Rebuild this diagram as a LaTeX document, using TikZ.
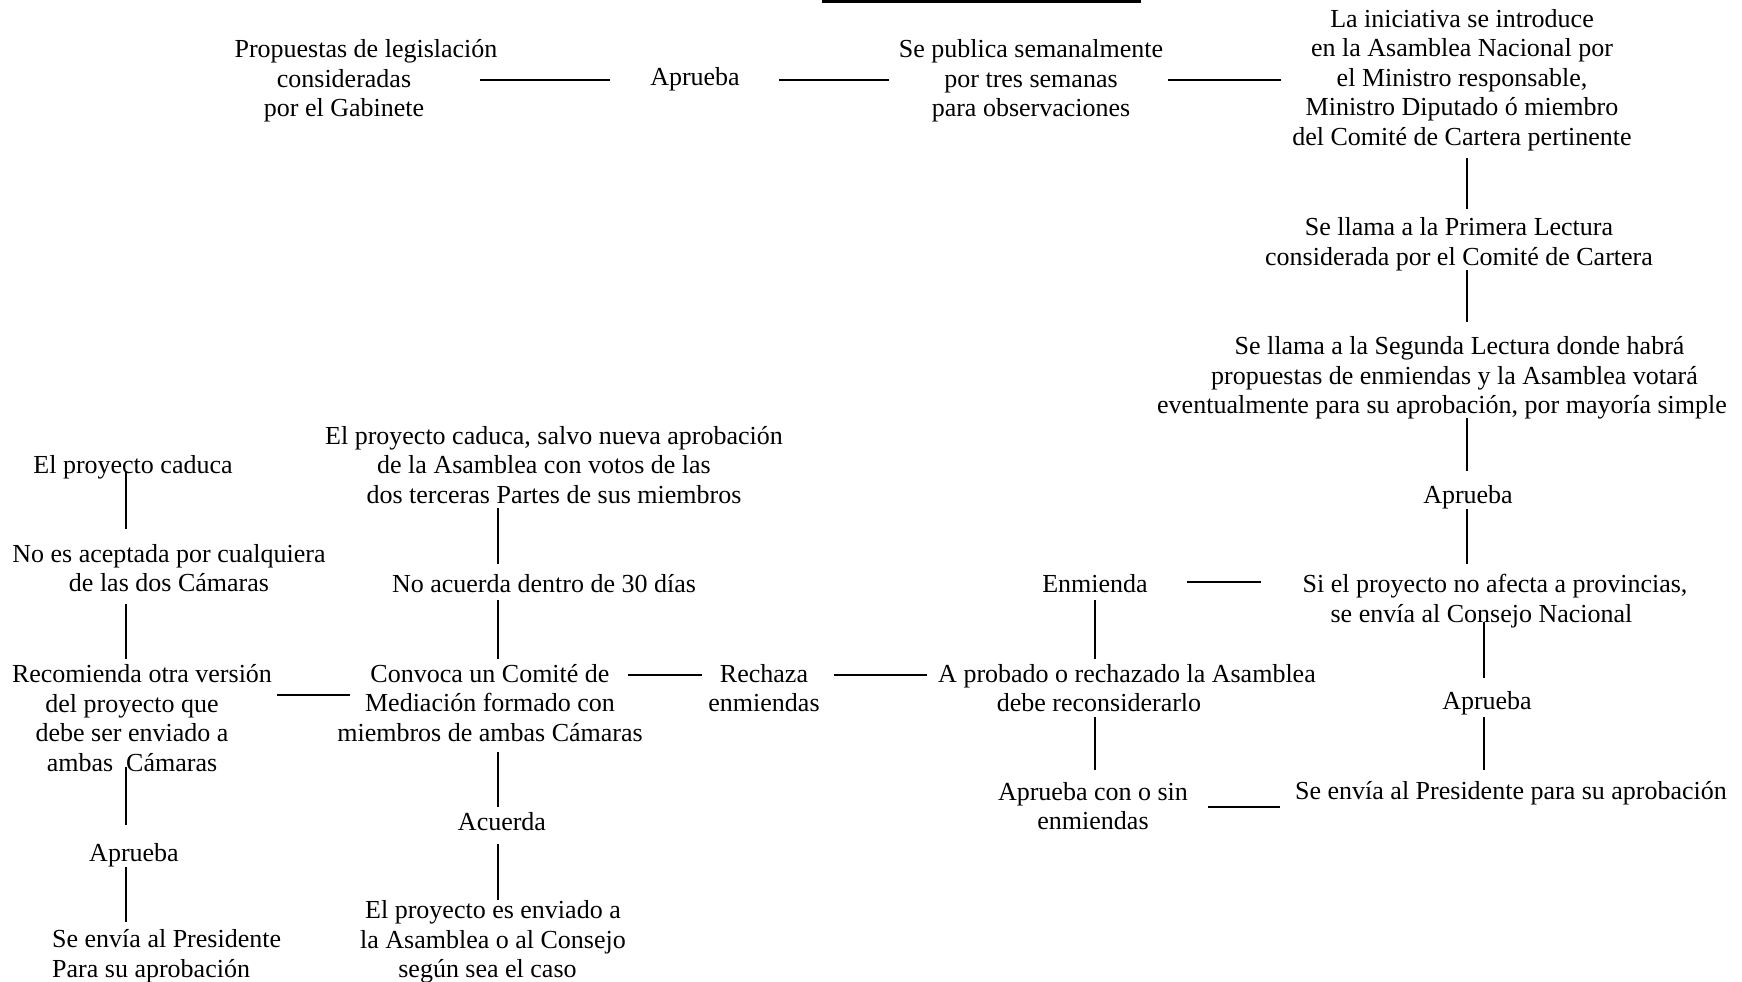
\documentclass[tikz,border=0pt]{standalone}
\usepackage{fontspec}
\setmainfont{Liberation Serif}
\usetikzlibrary{calc}
\newcommand{\padr}[1]{\rule{#1}{0pt}}
\begin{document}
\begin{tikzpicture}[x=1pt,y=-1pt,
  txt/.style={inner sep=0pt,align=center,font=\fontsize{26}{29.5}\selectfont},
  hconn/.style={line width=2pt},
  vconn/.style={line width=1.5pt}]
\useasboundingbox (0,0) rectangle (1742,982);
\draw[line width=3pt] (822,2) -- (1141,2);
% nodes
\node[txt] (n1) at (366,81) {Propuestas de legislación\\consideradas\padr{44pt}\\por el Gabinete\padr{44pt}};
\node[txt] (a1) at (695,79) {Aprueba};
\node[txt] (n2) at (1031,81) {Se publica semanalmente\\por tres semanas\\para observaciones};
\node[txt] (n3) at (1462,80) {La iniciativa se introduce\\en la Asamblea Nacional por\\el Ministro responsable,\\Ministro Diputado ó miembro\\del Comité de Cartera pertinente};
\node[txt] (n4) at (1459,244) {Se llama a la Primera Lectura\\considerada por el Comité de Cartera};
\node[txt] (n5) at (1442,378) {\padr{35pt}Se llama a la Segunda Lectura donde habrá\\\padr{25pt}propuestas de enmiendas y la Asamblea votará\\eventualmente para su aprobación, por mayoría simple};
\node[txt] (a2) at (1468,497) {Aprueba};
\node[txt] (n6) at (1495,601) {Si el proyecto no afecta a provincias,\\se envía al Consejo Nacional\padr{27pt}};
\node[txt] (enm) at (1095,584) {Enmienda};
\node[txt] (n7) at (1127,688) {A probado o rechazado la Asamblea\\debe reconsiderarlo\padr{56pt}};
\node[txt] (rech) at (764,688) {Rechaza\\enmiendas};
\node[txt] (conv) at (490,703) {Convoca un Comité de\\Mediación formado con\\miembros de ambas Cámaras};
\node[txt] (recom) at (142,718) {Recomienda otra versión\\del proyecto que\padr{20pt}\\debe ser enviado a\padr{20pt}\\ambas\ \ Cámaras\padr{20pt}};
\node[txt] (a3) at (134,855) {Aprueba};
\node[txt,align=left,anchor=west] (pres1) at (52,956) {Se envía al Presidente\\Para su aprobación};
\node[txt] (cad1) at (133,467) {El proyecto caduca};
\node[txt] (noac) at (169,568) {No es aceptada por cualquiera\\de las dos Cámaras};
\node[txt] (cad2) at (554,465) {El proyecto caduca, salvo nueva aprobación\\de la Asamblea con votos de las\padr{20pt}\\dos terceras Partes de sus miembros};
\node[txt] (no30) at (544,584) {No acuerda dentro de 30 días};
\node[txt] (acu) at (502,822) {Acuerda};
\node[txt] (env) at (493,942) {El proyecto es enviado a\\la Asamblea o al Consejo\\según sea el caso\padr{11pt}};
\node[txt] (apr4) at (1093,806) {Aprueba con o sin\\enmiendas};
\node[txt] (pres2) at (1511,793) {Se envía al Presidente para su aprobación};
\node[txt] (a5) at (1487,703) {Aprueba};
% horizontal connectors
\draw[hconn] ($(n1)+(114,-1)$) -- ($(a1)+(-85,1)$);
\draw[hconn] ($(a1)+(84,1)$) -- ($(n2)+(-142,-1)$);
\draw[hconn] ($(n2)+(137,-1)$) -- ($(n3)+(-181,0)$);
\draw[hconn] ($(enm)+(92,-2)$) -- ($(n6)+(-234,-19)$);
\draw[hconn] ($(rech)+(70,-13)$) -- ($(n7)+(-200,-13)$);
\draw[hconn] ($(conv)+(138,-28)$) -- ($(rech)+(-62,-13)$);
\draw[hconn] ($(recom)+(135,-23)$) -- ($(conv)+(-140,-8)$);
\draw[hconn] ($(apr4)+(115,1)$) -- ($(pres2)+(-231,14)$);
% vertical connectors
\draw[vconn] ($(n3)+(5,78)$) -- ($(n4)+(8,-35)$);
\draw[vconn] ($(n4)+(8,26)$) -- ($(n5)+(25,-56)$);
\draw[vconn] ($(n5)+(25,40)$) -- ($(a2)+(-1,-26)$);
\draw[vconn] ($(a2)+(-1,12)$) -- ($(n6)+(-28,-37)$);
\draw[vconn] ($(enm)+(0,16)$) -- ($(n7)+(-32,-29)$);
\draw[vconn] ($(recom)+(-16,49)$) -- ($(a3)+(-8,-30)$);
\draw[vconn] ($(a3)+(-8,12)$) -- ($(pres1.west)+(74,-34)$);
\draw[vconn] ($(cad1)+(-7,4)$) -- ($(noac)+(-43,-39)$);
\draw[vconn] ($(noac)+(-43,36)$) -- ($(recom)+(-16,-59)$);
\draw[vconn] ($(cad2)+(-56,43)$) -- ($(no30)+(-46,-20)$);
\draw[vconn] ($(no30)+(-46,16)$) -- ($(conv)+(8,-44)$);
\draw[vconn] ($(conv)+(8,49)$) -- ($(acu)+(-4,-15)$);
\draw[vconn] ($(acu)+(-4,22)$) -- ($(env)+(5,-42)$);
\draw[vconn] ($(n7)+(-32,29)$) -- ($(apr4)+(2,-36)$);
\draw[vconn] ($(n6)+(-11,21)$) -- ($(a5)+(-3,-25)$);
\draw[vconn] ($(a5)+(-3,14)$) -- ($(pres2)+(-27,-23)$);
\end{tikzpicture}
\end{document}
